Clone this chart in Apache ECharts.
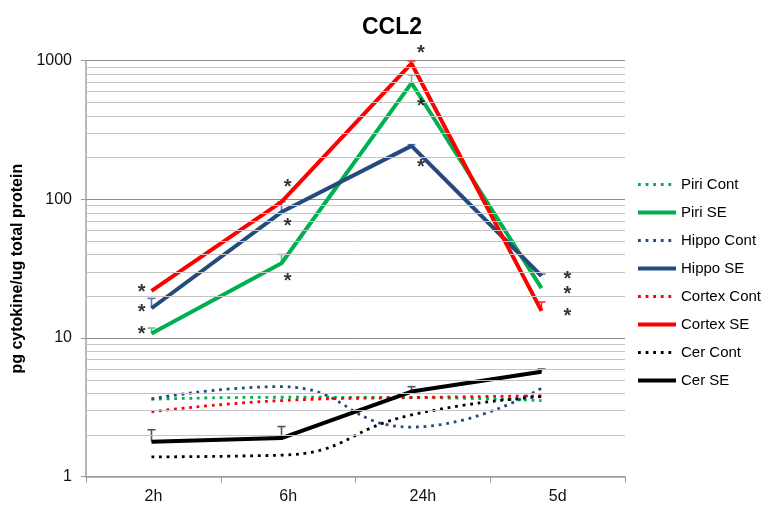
<!DOCTYPE html>
<html><head><meta charset="utf-8">
<script src="https://cdn.jsdelivr.net/npm/echarts@6/dist/echarts.min.js"></script>
<style>html,body{margin:0;padding:0;background:#fff}#c{width:766px;height:506px}</style>
</head><body><div id="c"></div>
<script>
const categories = ['2h', '6h', '24h', '5d'];
const yTickValues = [1, 10, 100, 1000];
const minorGridValues = [2,3,4,5,6,7,8,9,20,30,40,50,60,70,80,90,200,300,400,500,600,700,800,900];
const legendNames = ['Piri Cont', 'Piri SE', 'Hippo Cont', 'Hippo SE', 'Cortex Cont', 'Cortex SE', 'Cer Cont', 'Cer SE'];

const piriCont   = [3.62, 3.74, 3.72, 3.54];
const piriSE     = [10.8, 34.6, 690, 22.9];
const hippoCont  = [3.64, 4.46, 2.28, 4.35];
const hippoSE    = [16.4, 81, 243, 28.0];
const cortexCont = [2.94, 3.54, 3.72, 3.82];
const cortexSE   = [21.9, 95.8, 955, 15.7];
const cerCont    = [1.39, 1.43, 2.79, 3.78];
const cerSE      = [1.79, 1.90, 4.11, 5.72];

// upper error bar ends (null = none visible)
const piriSEUpper   = [11.8, 40.1, 789, null];
const hippoSEUpper  = [19.3, 96, 248, 28.9];
const cortexSEUpper = [null, null, 995, 18.2];
const cerSEUpper    = [2.18, 2.30, 4.46, 5.98];

// significance asterisks: category index and value level
const starCat = [0, 0, 0, 1, 1, 1, 2, 2, 2, 3, 3, 3];
const starVal = [22.8, 16.4, 11.3, 130, 68, 27.3, 1200, 501, 182, 28.4, 22.1, 15.3];

const starDx = [-9.8, 6.2, 9.5, 25.8];

const FONT = 'Liberation Sans, Arial, Helvetica, sans-serif';
const chart = echarts.init(document.getElementById('c'), null, {renderer: 'canvas'});

function dotted(color) {
  return {width: 2.8, color: color, type: [2.8, 4.8], cap: 'butt'};
}
function solid(color) {
  return {width: 4, color: color};
}
function errSeries(name, vals, upper, color) {
  const data = [];
  vals.forEach((v, i) => { if (upper[i] != null) data.push([i, v, upper[i]]); });
  return {
    type: 'custom', xAxisIndex: 1, yAxisIndex: 1, silent: true, z: 1,
    data: data,
    renderItem: function (params, api) {
      const p0 = api.coord([api.value(0), api.value(1)]);
      const p1 = api.coord([api.value(0), api.value(2)]);
      const st = {stroke: color, lineWidth: 1.6};
      return {type: 'group', children: [
        {type: 'line', shape: {x1: p0[0], y1: p0[1], x2: p1[0], y2: p1[1]}, style: st},
        {type: 'line', shape: {x1: p1[0] - 4, y1: p1[1], x2: p1[0] + 4, y2: p1[1]}, style: st}
      ]};
    }
  };
}
function lineSeries(name, data, style, smooth) {
  return {
    name: name, type: 'line', xAxisIndex: 1, yAxisIndex: 1,
    data: data, symbol: 'none', showSymbol: false, smooth: smooth ? 0.5 : false,
    lineStyle: style, itemStyle: {color: style.color, opacity: 0}, z: 3
  };
}

const GREEN = '#00B050', BLUE = '#254A7C', RED = '#FF0000', BLACK = '#000000';

const option = {
  animation: false,
  backgroundColor: '#ffffff',
  title: {
    text: 'CCL2', left: 387, top: 11, textAlign: 'center',
    textStyle: {fontFamily: FONT, fontSize: 23, fontWeight: 'bold', color: '#000'}
  },
  legend: {
    orient: 'vertical', left: 636, top: 177, padding: 0,
    itemWidth: 38, itemHeight: 14, itemGap: 13,
    itemStyle: {opacity: 0},
    textStyle: {fontFamily: FONT, fontSize: 15, color: '#000'},
    data: legendNames.map(n => (/SE$/.test(n) ? {name: n, lineStyle: {width: 4}} : {name: n, lineStyle: {width: 2.8}}))
  },
  grid: [
    {left: 86, right: 141, top: 60.7, bottom: 29.3, containLabel: false},
    {left: 86.5, width: 520, top: 60.7, bottom: 29.3, containLabel: false}
  ],
  xAxis: [
    {
      type: 'category', gridIndex: 0, data: categories, boundaryGap: true,
      axisLine: {show: true, lineStyle: {color: '#a0a0a0', width: 1.5}},
      axisTick: {show: true, length: 6, lineStyle: {color: '#999'}},
      axisLabel: {fontFamily: FONT, fontSize: 16, color: '#111', margin: 12}
    },
    {
      type: 'category', gridIndex: 1, data: categories, boundaryGap: true,
      show: false
    }
  ],
  yAxis: [
    {
      type: 'log', gridIndex: 0, logBase: 10, min: 1, max: 1000,
      name: 'pg cytokine/ug total protein', nameLocation: 'middle', nameGap: 60,
      nameTextStyle: {fontFamily: FONT, fontSize: 16, fontWeight: 'bold', color: '#000'},
      axisLine: {show: true, lineStyle: {color: '#a0a0a0', width: 1.5}},
      axisTick: {show: true, length: 5, lineStyle: {color: '#999'}},
      axisLabel: {fontFamily: FONT, fontSize: 16, color: '#111', margin: 14,
        formatter: function (v) { return yTickValues.indexOf(Math.round(v)) >= 0 ? String(Math.round(v)) : ''; }},
      splitLine: {show: true, lineStyle: {color: '#8c8c8c', width: 1}}
    },
    {
      type: 'log', gridIndex: 1, logBase: 10, min: 1, max: 1000, show: false,
      splitLine: {show: false}
    }
  ],
  series: [
    {
      type: 'line', xAxisIndex: 0, yAxisIndex: 0, data: [], silent: true, z: 0,
      markLine: {
        silent: true, symbol: ['none', 'none'], label: {show: false},
        lineStyle: {color: '#c4c4c4', width: 1, type: 'solid'},
        data: minorGridValues.map(v => ({yAxis: v}))
      }
    },
    errSeries('Piri SE', piriSE, piriSEUpper, '#5cc98a'),
    errSeries('Hippo SE', hippoSE, hippoSEUpper, '#5a7db0'),
    errSeries('Cortex SE', cortexSE, cortexSEUpper, '#ff3030'),
    errSeries('Cer SE', cerSE, cerSEUpper, '#555555'),
    lineSeries('Piri Cont', piriCont, dotted(GREEN), true),
    lineSeries('Piri SE', piriSE, solid(GREEN), false),
    lineSeries('Hippo Cont', hippoCont, dotted(BLUE), true),
    lineSeries('Hippo SE', hippoSE, solid(BLUE), false),
    lineSeries('Cortex Cont', cortexCont, dotted(RED), true),
    lineSeries('Cortex SE', cortexSE, solid(RED), false),
    lineSeries('Cer Cont', cerCont, dotted(BLACK), true),
    lineSeries('Cer SE', cerSE, solid(BLACK), false),
    {
      type: 'scatter', xAxisIndex: 1, yAxisIndex: 1, silent: true, clip: false, z: 5,
      symbolSize: 0,
      data: starCat.map((c, i) => ({
        value: [c, starVal[i]],
        label: {show: true, position: 'inside', formatter: '*', offset: [starDx[c], 4],
          fontFamily: FONT, fontSize: 20, fontWeight: 'bold', color: '#000'}
      }))
    }
  ]
};
chart.setOption(option);
</script>
</body></html>
